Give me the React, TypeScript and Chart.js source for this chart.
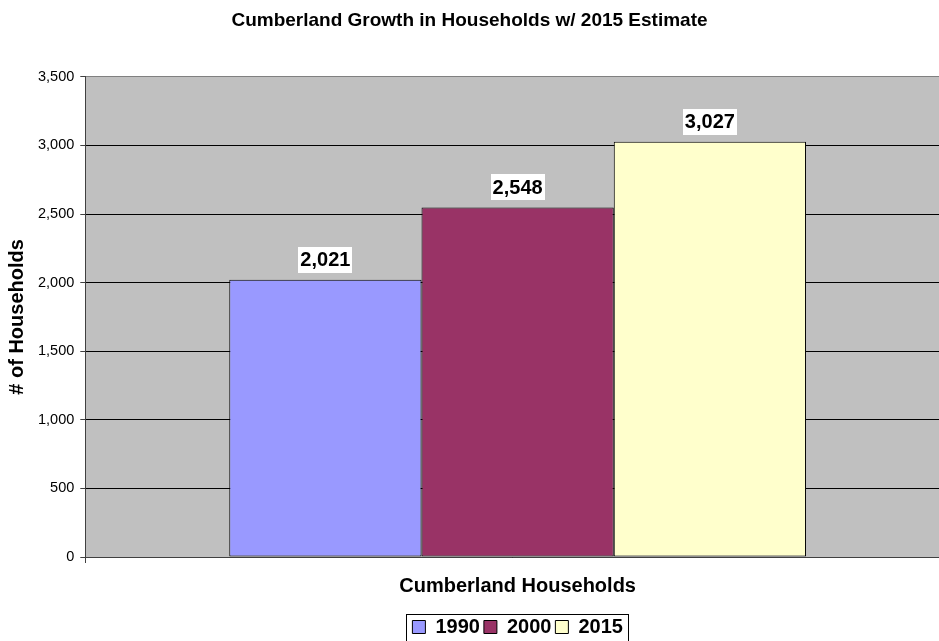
import React, { useEffect, useRef } from "react";
import { Chart, registerables } from "chart.js";

Chart.register(...registerables);

const categories = ["Cumberland Households"];
const seriesNames = ["1990", "2000", "2015"];
const values1990 = [2021];
const values2000 = [2548];
const values2015 = [3027];
const seriesColors = ["#9999FF", "#993366", "#FFFFCC"];

const FONT = "Arial, 'Liberation Sans', sans-serif";
const PLOT_OVERHANG = 11; // plot area runs past the right edge of the canvas

const labelPlugin = {
  id: "valueLabels",
  afterDatasetsDraw(chart: any) {
    const ctx = chart.ctx;
    ctx.save();
    ctx.font = "bold 20px " + FONT;
    ctx.textAlign = "center";
    ctx.textBaseline = "middle";
    chart.data.datasets.forEach((ds: any, i: number) => {
      const meta = chart.getDatasetMeta(i);
      meta.data.forEach((bar: any, j: number) => {
        const v = ds.data[j];
        const txt = v.toLocaleString("en-US");
        const w = ctx.measureText(txt).width + 4;
        const h = 26;
        const cy = bar.y - 7 - h / 2;
        ctx.fillStyle = "#FFFFFF";
        ctx.fillRect(Math.round(bar.x - w / 2), Math.round(cy - h / 2), Math.round(w), h);
        ctx.fillStyle = "#000000";
        ctx.fillText(txt, bar.x, cy + 1);
      });
    });
    ctx.restore();
  },
};

const legendBorderPlugin = {
  id: "legendBorder",
  afterDraw(chart: any) {
    const lg = chart.legend;
    if (!lg) return;
    const items = lg.legendHitBoxes;
    if (!items || !items.length) return;
    const first = items[0];
    const last = items[items.length - 1];
    const ctx = chart.ctx;
    ctx.save();
    ctx.strokeStyle = "#000000";
    ctx.lineWidth = 1;
    const x0 = Math.round(first.left - 6) + 0.5;
    const x1 = Math.round(last.left + last.width + 5) + 0.5;
    const y0 = Math.round(first.top - 3.5) + 0.5;
    ctx.strokeRect(x0, y0, x1 - x0, 60);
    ctx.restore();
  },
};

const plotBgPlugin = {
  id: "plotBg",
  beforeDraw(chart: any) {
    const { ctx, chartArea } = chart;
    ctx.save();
    ctx.fillStyle = "#C0C0C0";
    ctx.fillRect(chartArea.left, chartArea.top, chartArea.right - chartArea.left, chartArea.bottom - chartArea.top);
    ctx.restore();
  },
};

const layoutTweakPlugin = {
  id: "layoutTweak",
  afterLayout(chart: any) {
    const t = chart.titleBlock;
    if (t) {
      t.left = 0;
      t.right = chart.width;
      t.width = chart.width;
    }
    const ca = chart.chartArea;
    ca.right += PLOT_OVERHANG;
    ca.width = ca.right - ca.left;
    const x = chart.scales.x;
    x.right = ca.right;
    x.width = ca.width;
    x.configure();
    const lg = chart.legend;
    if (lg) {
      const delta = (ca.left + ca.right - (lg.left + lg.right)) / 2;
      lg.left = ca.left;
      lg.right = ca.right;
      lg.width = ca.width;
      (lg.legendHitBoxes || []).forEach((hb: any) => {
        hb.left += delta;
      });
    }
  },
};

export default function App() {
  const ref = useRef<HTMLCanvasElement>(null);
  useEffect(() => {
    document.body.style.margin = "0";
    const chart = new Chart(ref.current as HTMLCanvasElement, {
      type: "bar",
      data: {
        labels: categories,
        datasets: [values1990, values2000, values2015].map((d, i) => ({
          label: seriesNames[i],
          data: d,
          backgroundColor: seriesColors[i],
          borderColor: "#000000",
          borderWidth: 1,
          borderSkipped: false,
          barPercentage: 1,
          categoryPercentage: 0.667,
        })),
      },
      options: {
        animation: false,
        responsive: false,
        maintainAspectRatio: false,
        layout: { padding: { left: 5, right: 0, top: 0, bottom: -6 } },
        plugins: {
          title: {
            display: true,
            text: "Cumberland Growth in Households w/ 2015 Estimate",
            color: "#000000",
            font: { family: FONT, size: 19, weight: "bold" },
            padding: { top: 9, bottom: 45 },
          },
          legend: {
            display: true,
            position: "bottom",
            fullSize: false,
            labels: {
              color: "#000000",
              boxWidth: 13,
              boxHeight: 13,
              padding: 4,
              font: { family: FONT, size: 20, weight: "bold" },
            },
          },
          tooltip: { enabled: false },
        },
        scales: {
          x: {
            afterFit: (scale: any) => {
              scale.height += 4;
            },
            grid: { display: true, drawOnChartArea: false, drawTicks: true, tickLength: 6, color: "#404040" },
            border: { color: "#404040", width: 1 },
            ticks: {
              color: "#000000",
              padding: 3,
              font: { family: FONT, size: 20, weight: "bold", lineHeight: 2.0 },
            },
          },
          y: {
            min: 0,
            max: 3500,
            ticks: {
              stepSize: 500,
              color: "#000000",
              padding: 6,
              font: { family: FONT, size: 14.5 },
              callback: (v: any) => Number(v).toLocaleString("en-US"),
            },
            grid: {
              color: (c: any) => (c.tick && c.tick.value === 3500 ? "#808080" : "#000000"),
              tickColor: "#404040",
              tickLength: 5,
              lineWidth: 1,
            },
            border: { color: "#404040", width: 1 },
            title: {
              display: true,
              text: "# of Households",
              color: "#000000",
              font: { family: FONT, size: 20, weight: "bold" },
              padding: { top: 0, bottom: 3 },
            },
          },
        },
      },
      plugins: [layoutTweakPlugin, plotBgPlugin, labelPlugin, legendBorderPlugin],
    });
    return () => chart.destroy();
  }, []);
  return (
    <div style={{ width: 939, height: 641 }}>
      <canvas ref={ref} width={939} height={641} style={{ display: "block" }} />
    </div>
  );
}
